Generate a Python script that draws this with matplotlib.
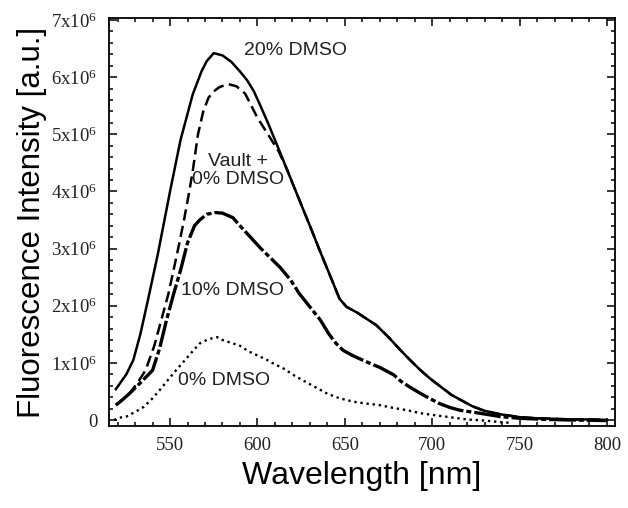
import numpy as np
import matplotlib
matplotlib.use('Agg')
import matplotlib.pyplot as plt
from matplotlib.ticker import MultipleLocator, FixedLocator, FixedFormatter

# Curves (intensity in units of 1e6 a.u.)
wl_20 = [519, 525, 529, 533, 537, 543, 550, 556, 563, 568, 571, 575, 580, 585,
         590, 594, 598, 602, 606, 613, 620, 624, 630, 636, 643, 647, 651, 657,
         663, 668, 675, 681, 687, 693, 699, 705, 711, 717, 723, 730, 739, 750,
         760, 770, 780, 790, 800]
int_20 = [0.54, 0.8, 1.05, 1.5, 2.05, 2.9, 4.0, 4.9, 5.7, 6.1, 6.28, 6.42, 6.38,
          6.27, 6.1, 5.95, 5.75, 5.48, 5.2, 4.68, 4.15, 3.85, 3.4, 2.94, 2.42,
          2.12, 1.98, 1.88, 1.76, 1.66, 1.45, 1.25, 1.06, 0.88, 0.72, 0.58, 0.44,
          0.34, 0.24, 0.16, 0.1, 0.05, 0.03, 0.02, 0.01, 0.01, 0.0]

wl_vault = [519, 523, 527, 532, 536, 541, 545, 549, 552, 555, 558, 561, 563, 566,
            569, 572, 575, 578, 583, 588, 593, 600, 606, 612, 617, 620, 624, 630,
            636, 643, 647, 651, 657, 663, 668, 675, 681, 687, 693, 699, 705, 711,
            717, 723, 730, 739, 750, 760, 770, 780, 790, 800]
int_vault = [0.26, 0.36, 0.47, 0.68, 0.87, 1.3, 1.75, 2.2, 2.62, 3.05, 3.5, 4.0,
             4.36, 5.0, 5.4, 5.64, 5.75, 5.82, 5.88, 5.84, 5.71, 5.29, 5.0, 4.71,
             4.38, 4.15, 3.85, 3.4, 2.94, 2.42, 2.12, 1.98, 1.88, 1.76, 1.66, 1.45,
             1.25, 1.06, 0.88, 0.72, 0.58, 0.44, 0.34, 0.24, 0.16, 0.1, 0.05, 0.03,
             0.02, 0.01, 0.01, 0.0]

wl_10 = [519, 523, 527, 533, 540, 544, 548, 552, 556, 560, 564, 567, 571, 576,
         580, 586, 590, 596, 602, 608, 613, 619, 624, 630, 636, 641, 645, 649,
         655, 663, 670, 678, 682, 687, 693, 699, 704, 710, 716, 727, 739, 750,
         765, 780, 800]
int_10 = [0.26, 0.36, 0.47, 0.65, 0.87, 1.25, 1.75, 2.2, 2.62, 3.1, 3.4, 3.5, 3.6,
          3.63, 3.62, 3.54, 3.4, 3.2, 3.0, 2.82, 2.67, 2.45, 2.21, 1.98, 1.75, 1.5,
          1.34, 1.22, 1.12, 1.01, 0.92, 0.79, 0.68, 0.58, 0.47, 0.37, 0.29, 0.22,
          0.17, 0.12, 0.06, 0.03, 0.01, 0.0, -0.01]

wl_0 = [518, 521, 525, 530, 535, 540, 544, 548, 552, 556, 560, 564, 567, 571, 575,
        577, 580, 586, 590, 595, 600, 605, 609, 615, 621, 628, 634, 640, 647, 655,
        662, 670, 678, 686, 693, 700, 710, 720, 730, 740, 745]
int_0 = [0.0, 0.04, 0.06, 0.14, 0.23, 0.38, 0.52, 0.67, 0.82, 0.96, 1.1, 1.24, 1.34,
         1.4, 1.44, 1.45, 1.4, 1.34, 1.3, 1.2, 1.13, 1.06, 0.99, 0.9, 0.78, 0.66,
         0.56, 0.46, 0.38, 0.32, 0.29, 0.26, 0.21, 0.17, 0.12, 0.09, 0.05, 0.01,
         -0.01, -0.04, -0.05]

x_ticks = [550, 600, 650, 700, 750, 800]
y_ticks = [0, 1, 2, 3, 4, 5, 6, 7]
y_ticklabels = ['0'] + [r'%dx10$^{6}$' % v for v in y_ticks[1:]]

scale = 1e6

plt.rcParams['font.family'] = ['Liberation Sans', 'DejaVu Sans']
plt.rcParams['mathtext.fontset'] = 'custom'
plt.rcParams['mathtext.rm'] = 'Liberation Serif'
plt.rcParams['mathtext.it'] = 'Liberation Serif:italic'

fig = plt.figure(figsize=(6.28, 5.08), dpi=100)
ax = fig.add_axes([0.1728, 0.1614, 0.8065, 0.8032])

ax.plot(wl_20, np.array(int_20) * scale, color='black', lw=1.8)
ax.plot(wl_vault, np.array(int_vault) * scale, color='black', lw=1.8,
        dashes=(4.5, 2.2))
ax.plot(wl_10, np.array(int_10) * scale, color='black', lw=2.4,
        dashes=(8, 0.9, 1.5, 0.9))
ax.plot(wl_0, np.array(int_0) * scale, color='black', lw=1.7, dashes=(1, 1.6))

ax.set_xlim(514.8, 804.6)
ax.set_ylim(-0.105 * scale, 7.035 * scale)

# ticks inside on all four sides, serif tick labels
ax.xaxis.set_major_locator(FixedLocator(x_ticks))
ax.xaxis.set_minor_locator(MultipleLocator(10))
ax.yaxis.set_major_locator(FixedLocator([v * scale for v in y_ticks]))
ax.yaxis.set_major_formatter(FixedFormatter(y_ticklabels))
ax.yaxis.set_minor_locator(MultipleLocator(0.2 * scale))
ax.tick_params(which='both', direction='in', top=True, right=True, width=1.1)
ax.tick_params(which='major', length=6, pad=8, labelsize=13.5)
ax.tick_params(which='minor', length=3)
for lab in ax.get_xticklabels() + ax.get_yticklabels():
    lab.set_family('Liberation Serif')
    lab.set_color('#222222')

for sp in ax.spines.values():
    sp.set_linewidth(1.3)

ax.set_xlabel('Wavelength [nm]', fontsize=23, labelpad=5)
ax.set_ylabel('Fluorescence Intensity [a.u.]', fontsize=22.5, labelpad=3)

# curve labels
txt = dict(fontsize=14, color='#222222', ha='center', va='center')
ax.text(622, 6.46 * scale, '20% DMSO', **txt)
ax.text(589, 4.37 * scale, 'Vault +\n0% DMSO', linespacing=1.05, **txt)
ax.text(585.6, 2.27 * scale, '10% DMSO', **txt)
ax.text(581, 0.70 * scale, '0% DMSO', **txt)

plt.savefig('out.png', dpi=100)
